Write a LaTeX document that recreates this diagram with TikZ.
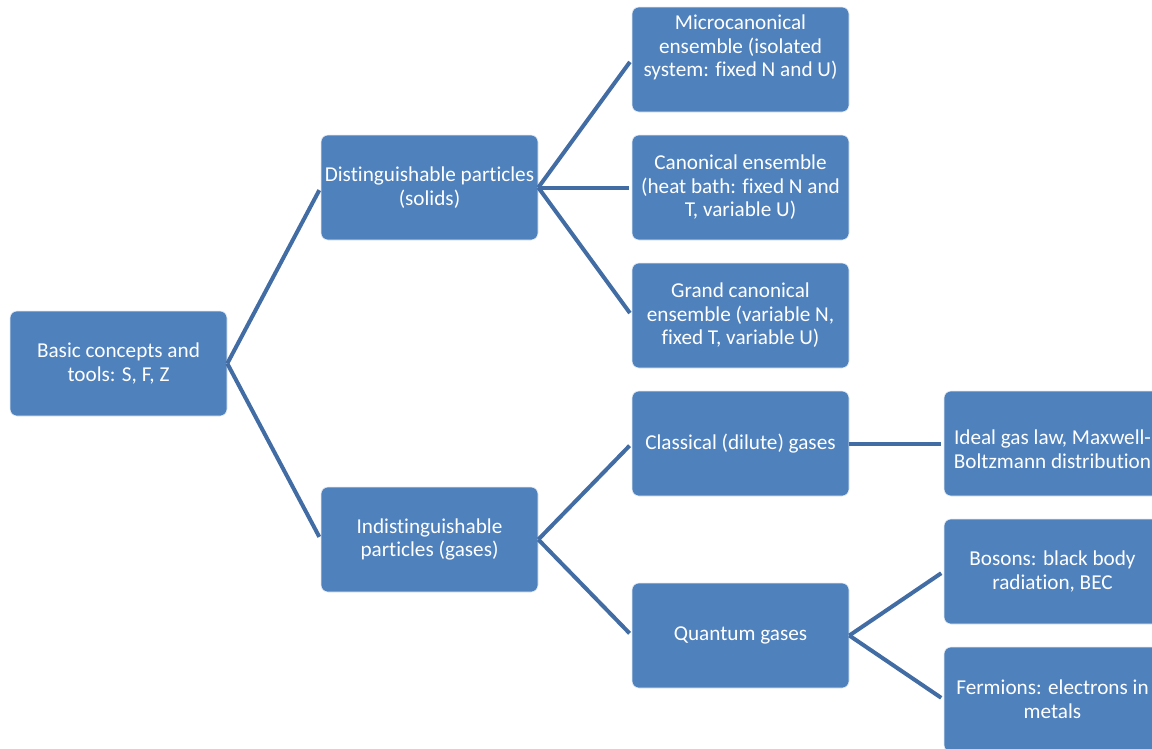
\documentclass[tikz,border=0pt]{standalone}
\usepackage{fontspec}
\setmainfont{Carlito}[Ligatures={NoCommon}]
\definecolor{boxblue}{RGB}{79,129,189}
\definecolor{lineblue}{RGB}{66,108,164}
\begin{document}
\begin{tikzpicture}[x=1pt,y=-1pt,
  box/.style={rectangle, rounded corners=7pt, fill=boxblue, draw=white!85!boxblue, line width=0.6pt,
    minimum width=217pt, minimum height=105pt, inner sep=0pt, text=white, align=center,
    font=\fontsize{21.2}{23.6}\selectfont},
  btext/.style={text=white, align=center, inner sep=0pt, font=\fontsize{21.2}{23.6}\selectfont},
  conn/.style={draw=lineblue, line width=4pt, shorten >=3pt}]
\useasboundingbox (0,0) rectangle (1152,748);
\clip (0,0) rectangle (1152,748);
\node[box] (root) at (118.5,363.5) {Basic concepts and\\tools: S, F, Z};
\node[box] (dist) at (429.5,187.5) {Distinguishable particles\\(solids)};
\node[box] (indist) at (429.5,539.5) {Indistinguishable\\particles (gases)};
\node[box] (micro) at (740.5,59.5) {};
\node[btext] (microtext) at (740.5,47.5) {Microcanonical\\ensemble (isolated\\system: fixed N and U)};
\node[box] (canon) at (740.5,187.5) {Canonical ensemble\\(heat bath: fixed N and\\T, variable U)};
\node[box] (grand) at (740.5,315.5) {Grand canonical\\ensemble (variable N,\\fixed T, variable U)};
\node[box] (classical) at (740.5,443.5) {Classical (dilute) gases};
\node[box] (quantum) at (740.5,635.5) {Quantum gases};
\node[box] (ideal) at (1052.5,443.5) {};
\node[btext] (idealtext) at (1052.5,449.5) {Ideal gas law, Maxwell-\\Boltzmann distribution};
\node[box] (bosons) at (1052.5,571.5) {Bosons: black body\\radiation, BEC};
\node[box] (fermions) at (1052.5,699.5) {Fermions: electrons in\\metals};
\draw[conn] (root.east) -- (dist.west);
\draw[conn] (root.east) -- (indist.west);
\draw[conn] (dist.east) -- (micro.west);
\draw[conn] (dist.east) -- (canon.west);
\draw[conn] (dist.east) -- (grand.west);
\draw[conn] (indist.east) -- (classical.west);
\draw[conn] (indist.east) -- (quantum.west);
\draw[conn] (classical.east) -- (ideal.west);
\draw[conn] (quantum.east) -- (bosons.west);
\draw[conn] (quantum.east) -- (fermions.west);
\end{tikzpicture}
\end{document}
